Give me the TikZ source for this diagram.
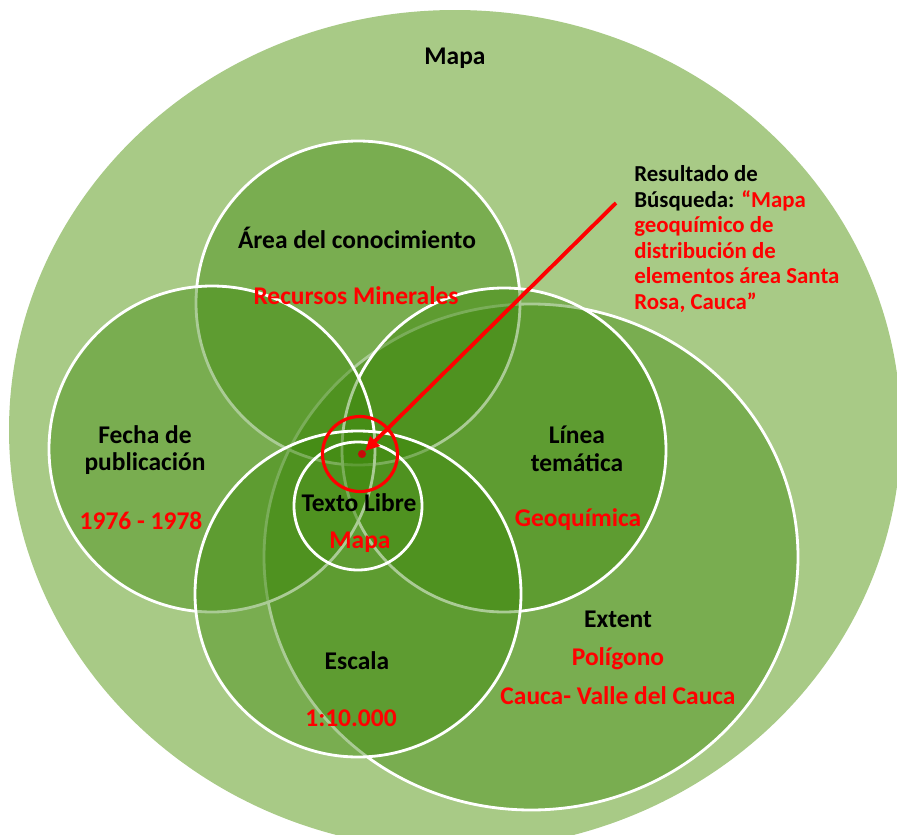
\documentclass[tikz,border=0pt]{standalone}
\usepackage{fontspec}
\setmainfont{Carlito}
\usepackage{tikz}
\usetikzlibrary{arrows.meta,positioning}

\definecolor{mapbg}{RGB}{168,202,134}
\definecolor{setgreen}{RGB}{60,135,10}
\definecolor{hitred}{RGB}{255,0,0}
\definecolor{dotred}{RGB}{200,10,10}

\begin{document}
\begin{tikzpicture}[x=0.02cm,y=-0.02cm,
  setc/.style={fill=setgreen, fill opacity=0.43, draw=white, line width=1.6pt},
  lbl/.style={font=\fontsize{14.5}{15.6}\selectfont\bfseries, align=center, text=black, inner sep=0pt},
  val/.style={lbl, text=hitred},
  dot/.style={circle, fill=dotred, inner sep=0pt, minimum size=4.6pt},
  arr/.style={-{Triangle[length=8pt,width=7.5pt]}, draw=hitred, line width=2.2pt}
]
\clip (0,0) rectangle (897,835);
% fondo
\fill[mapbg] (455,430) ellipse [x radius=446, y radius=420];
% conjuntos
\draw[setc] (531,557) ellipse [x radius=267, y radius=253]; % extent
\draw[setc] (358,303) circle (162); % area
\draw[setc] (504,450) circle (162); % linea
\draw[setc] (212,449) circle (163); % fecha
\draw[setc] (358,594) circle (163); % escala
\draw[draw=white, line width=1.6pt] (358,506) circle (64); % texto libre
\draw[hitred, line width=1.8pt] (360,454) circle (37.5);

\node[lbl] (mapa)      at (455,58)  {Mapa};
\node[lbl] (area)      at (357,238) {Área del conocimiento};
\node[val] (recursos)  at (356,296) {Recursos Minerales};
\node[lbl] (fecha)     at (145,450) {Fecha de\\publicación};
\node[val] (fechaval)  at (141,521) {1976 - 1978};
\node[lbl] (linea)     at (577,449) {Línea\\temática};
\node[val] (lineaval)  at (578,520) {Geoquímica};
\node[lbl] (texto)     at (359,503) {Texto Libre};
\node[val] (textoval)  at (360,542) {Mapa};
\node[lbl] (extent)    at (618,619) {Extent};
\node[val] (poligono)  at (618,659) {Polígono};
\node[val] (region)    at (618,696) {Cauca- Valle del Cauca};
\node[lbl] (escala)    at (357,661) {Escala};
\node[val] (escalaval) at (351,718) {1:10.000};

\node[lbl, font=\fontsize{13}{14.6}\selectfont\bfseries, align=left, anchor=north west] (resultado) at (634,165)
  {Resultado de\\Búsqueda: \textcolor{hitred}{“Mapa}\\\textcolor{hitred}{geoquímico de}\\\textcolor{hitred}{distribución de}\\\textcolor{hitred}{elementos área Santa}\\\textcolor{hitred}{Rosa, Cauca”}};

\coordinate (tail) at (616,203);
\node[dot] (hit) at (362,454) {};
\draw[arr] (tail) -- (hit);
\end{tikzpicture}
\end{document}
